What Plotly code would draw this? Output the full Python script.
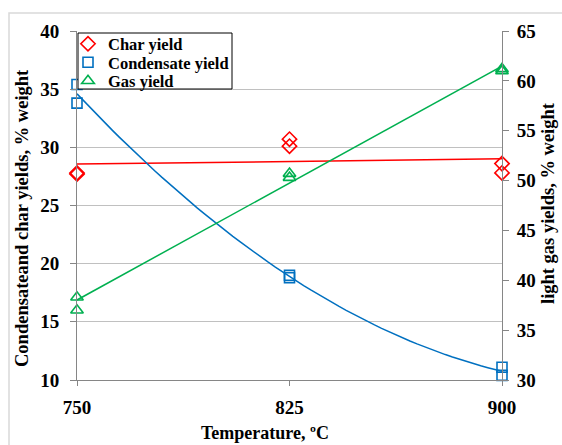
import numpy as np
import plotly.graph_objects as go

temps = [750, 750, 825, 825, 900, 900]
char_yield = [27.7, 27.8, 30.7, 30.1, 28.6, 27.8]
cond_yield = [35.4, 33.8, 19.0, 18.8, 11.1, 10.4]
gas_yield = [38.3, 37.0, 50.7, 50.3, 61.0, 61.2]
x_ticks = [750, 825, 900]
y1_ticks = [10, 15, 20, 25, 30, 35, 40]
y2_ticks = [30, 35, 40, 45, 50, 55, 60, 65]

RED = "#FF0000"
BLUE = "#0070C0"
GREEN = "#00B050"
FONT = "Liberation Serif"

W, H = 562, 445
L, R, T, B = 77, 60, 31, 65
PW, PH = W - L - R, H - T - B


def px(x):
    return (x - L) / PW


def py(y):
    return (H - B - y) / PH


def bold(v):
    return [f"<b>{t}</b>" for t in v]


xf = np.linspace(750, 900, 61)
char_fit = np.polyval(np.polyfit(temps, char_yield, 1), xf)
cond_fit = np.polyval(np.polyfit(temps, cond_yield, 2), xf)
gas_fit = np.polyval(np.polyfit(temps, gas_yield, 1), xf)

fig = go.Figure()
fig.add_trace(go.Scatter(x=xf, y=char_fit, mode="lines", line=dict(color=RED, width=1.5), showlegend=False, hoverinfo="skip"))
fig.add_trace(go.Scatter(x=xf, y=cond_fit, mode="lines", line=dict(color=BLUE, width=1.5), showlegend=False, hoverinfo="skip"))
fig.add_trace(go.Scatter(x=xf, y=gas_fit, mode="lines", line=dict(color=GREEN, width=1.5), showlegend=False, hoverinfo="skip", yaxis="y2"))

fig.add_trace(go.Scatter(x=temps, y=char_yield, mode="markers", name="<b>Char yield</b>", cliponaxis=False, legend="legend",
                         marker=dict(symbol="diamond-open", size=11, color=RED, line=dict(width=1.6, color=RED))))
fig.add_trace(go.Scatter(x=temps, y=cond_yield, mode="markers", name="<b>Condensate yield</b>", cliponaxis=False, legend="legend2",
                         marker=dict(symbol="square-open", size=10, color=BLUE, line=dict(width=1.6, color=BLUE))))
fig.add_trace(go.Scatter(x=temps, y=gas_yield, mode="markers", name="<b>Gas yield</b>", cliponaxis=False, yaxis="y2", legend="legend3",
                         marker=dict(symbol="triangle-up-open", size=11, color=GREEN, line=dict(width=1.6, color=GREEN))))

tickfont = dict(family=FONT, size=19, color="black")
legfont = dict(family=FONT, size=16.5, color="black")


def leg(ycenter):
    return dict(x=px(68), y=py(ycenter), xanchor="left", yanchor="middle", bgcolor="rgba(0,0,0,0)",
                borderwidth=0, font=legfont, itemwidth=30)


fig.update_layout(
    width=W, height=H,
    margin=dict(l=L, r=R, t=T, b=B),
    paper_bgcolor="white", plot_bgcolor="white",
    font=dict(family=FONT, color="black"),
    xaxis=dict(range=[750, 900], tickvals=x_ticks, ticktext=bold(x_ticks), showgrid=False, zeroline=False,
               showline=True, linecolor="#868686", linewidth=1, ticks="outside", ticklen=5,
               tickcolor="#868686", tickfont=tickfont, ticklabelstandoff=5),
    yaxis=dict(range=[10, 40], tickvals=y1_ticks, ticktext=bold(y1_ticks), showgrid=True, gridcolor="#C0C0C0",
               gridwidth=1, zeroline=False,
               showline=True, linecolor="#868686", ticks="outside", ticklen=6, tickcolor="#868686",
               tickfont=tickfont, ticklabelstandoff=7),
    yaxis2=dict(range=[30, 65], tickvals=y2_ticks, ticktext=bold(y2_ticks), overlaying="y", side="right",
                showgrid=False, zeroline=False,
                showline=True, linecolor="#868686", ticks="outside", ticklen=6, tickcolor="#868686",
                tickfont=tickfont, ticklabelstandoff=4),
    legend=leg(44),
    legend2=leg(62.5),
    legend3=leg(81),
    showlegend=True,
)

# legend frame
fig.add_shape(type="rect", xref="paper", yref="paper", x0=px(78), x1=px(232), y0=py(89), y1=py(33),
              line=dict(color="black", width=1), fillcolor="white", layer="above")

fig.add_annotation(text="<b>Temperature, ºC</b>", xref="paper", yref="paper", x=px(265), y=py(433),
                   showarrow=False, font=dict(family=FONT, size=18, color="black"), xanchor="center", yanchor="middle")
fig.add_annotation(text="<b>Condensateand char yields, % weight</b>", xref="paper", yref="paper",
                   x=px(22), y=py(218), textangle=-90,
                   showarrow=False, font=dict(family=FONT, size=18.5, color="black"), xanchor="center", yanchor="middle")
fig.add_annotation(text="<b>light gas yields, % weight</b>", xref="paper", yref="paper",
                   x=px(548), y=py(203), textangle=-90,
                   showarrow=False, font=dict(family=FONT, size=18.5, color="black"), xanchor="center", yanchor="middle")

fig.add_shape(type="rect", xref="paper", yref="paper", x0=px(9), x1=px(700), y0=py(700), y1=py(13),
              line=dict(color="#D9D9D9", width=1.5), fillcolor="rgba(0,0,0,0)", layer="below")

fig.write_html("out.html", config={"displayModeBar": False},
               post_script="document.body.style.margin='0';document.body.style.overflow='hidden';")
